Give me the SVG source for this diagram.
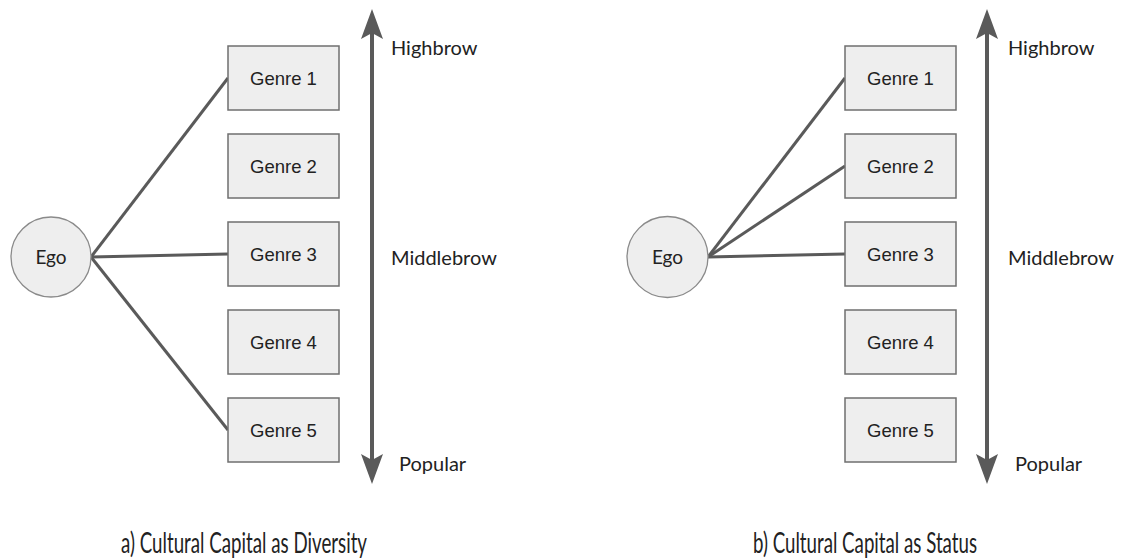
<svg xmlns="http://www.w3.org/2000/svg" width="1125" height="560" viewBox="0 0 1125 560">
<style>
.box{fill:#eeeeee;stroke:#6f6f6f;stroke-width:1.5}
.ego{fill:#eeeeee;stroke:#8a8a8a;stroke-width:1.3}
.gt{font-family:"Liberation Sans",Arial,sans-serif;font-size:18.5px;fill:#222;text-anchor:middle}
.et{font-family:Lato,"Open Sans",sans-serif;font-size:19px;fill:#222;text-anchor:middle}
.lab{font-family:Lato,"Open Sans",sans-serif;font-size:20px;fill:#222}
.cap{font-family:Lato,"Liberation Sans",sans-serif;font-size:28px;font-weight:400;fill:#222}
.edge{stroke:#5a5a5a;stroke-width:3;fill:none}
.shaft{stroke:#5a5a5a;stroke-width:4;fill:none}
.head{fill:#5a5a5a}
</style>
<rect width="1125" height="560" fill="#ffffff"/>
<g id="connectors">
<line class="edge" x1="91" y1="257" x2="228" y2="78"/>
<line class="edge" x1="91" y1="257" x2="228" y2="254"/>
<line class="edge" x1="91" y1="257" x2="228" y2="430"/>
<line class="edge" x1="708" y1="257" x2="845" y2="78"/>
<line class="edge" x1="708" y1="257" x2="845" y2="166"/>
<line class="edge" x1="708" y1="257" x2="845" y2="254"/>
</g>
<g id="axis-a">
<line class="shaft" x1="372" y1="30" x2="372" y2="462"/>
<path class="head" d="M372,9 L383,39 L372,33 L361,39 Z"/>
<path class="head" d="M372,484 L383,454 L372,460 L361,454 Z"/>
</g>
<g id="axis-b">
<line class="shaft" x1="987" y1="30" x2="987" y2="462"/>
<path class="head" d="M987,9 L998,39 L987,33 L976,39 Z"/>
<path class="head" d="M987,484 L998,454 L987,460 L976,454 Z"/>
</g>
<g id="ego-a"><circle class="ego" cx="51" cy="257" r="40"/><text class="et" x="51" y="264">Ego</text></g>
<g id="a-genre1"><rect class="box" x="228" y="46" width="111" height="64"/><text class="gt" x="283.5" y="85">Genre 1</text></g>
<g id="a-genre2"><rect class="box" x="228" y="134" width="111" height="64"/><text class="gt" x="283.5" y="173">Genre 2</text></g>
<g id="a-genre3"><rect class="box" x="228" y="222" width="111" height="64"/><text class="gt" x="283.5" y="261">Genre 3</text></g>
<g id="a-genre4"><rect class="box" x="228" y="310" width="111" height="64"/><text class="gt" x="283.5" y="349">Genre 4</text></g>
<g id="a-genre5"><rect class="box" x="228" y="398" width="111" height="64"/><text class="gt" x="283.5" y="437">Genre 5</text></g>
<g id="a-labels">
<text class="lab" x="391" y="55">Highbrow</text>
<text class="lab" x="391" y="265">Middlebrow</text>
<text class="lab" x="399" y="471">Popular</text>
</g>
<g id="ego-b"><circle class="ego" cx="667.5" cy="257" r="40.5"/><text class="et" x="667.5" y="264">Ego</text></g>
<g id="b-genre1"><rect class="box" x="845" y="46" width="111" height="64"/><text class="gt" x="900.5" y="85">Genre 1</text></g>
<g id="b-genre2"><rect class="box" x="845" y="134" width="111" height="64"/><text class="gt" x="900.5" y="173">Genre 2</text></g>
<g id="b-genre3"><rect class="box" x="845" y="222" width="111" height="64"/><text class="gt" x="900.5" y="261">Genre 3</text></g>
<g id="b-genre4"><rect class="box" x="845" y="310" width="111" height="64"/><text class="gt" x="900.5" y="349">Genre 4</text></g>
<g id="b-genre5"><rect class="box" x="845" y="398" width="111" height="64"/><text class="gt" x="900.5" y="437">Genre 5</text></g>
<g id="b-labels">
<text class="lab" x="1008" y="55">Highbrow</text>
<text class="lab" x="1008" y="265">Middlebrow</text>
<text class="lab" x="1015" y="471">Popular</text>
</g>
<g id="captions">
<text class="cap" x="121" y="553" textLength="246" lengthAdjust="spacingAndGlyphs">a) Cultural Capital as Diversity</text>
<text class="cap" x="753" y="553" textLength="224" lengthAdjust="spacingAndGlyphs">b) Cultural Capital as Status</text>
</g>
</svg>
